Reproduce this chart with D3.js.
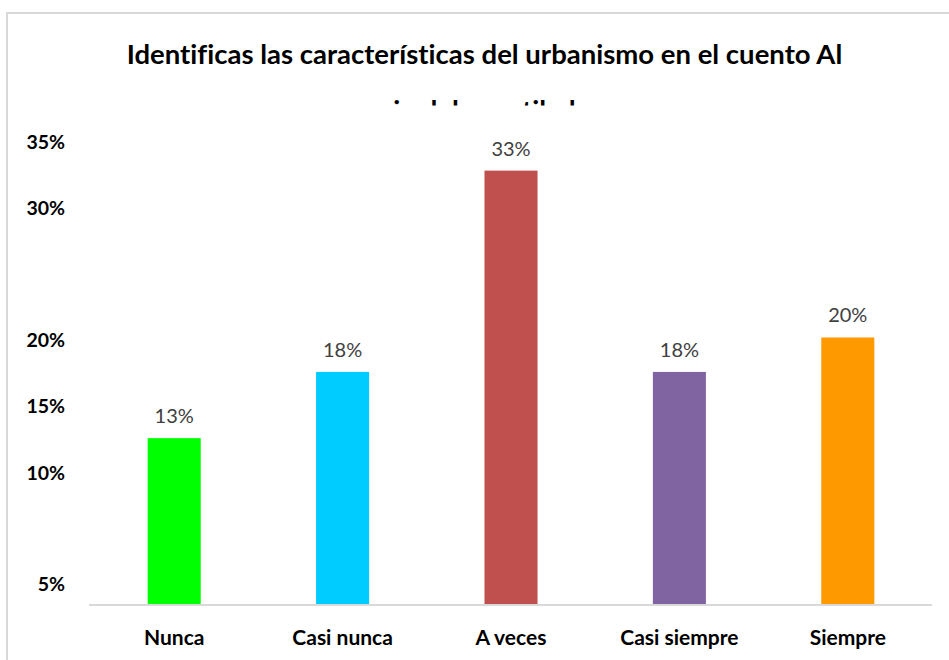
<html>
  <head>
    <meta charset="utf-8">
    <style>
      body { margin: 0; background: #fff; }
      text { font-family: Lato, "Open Sans", sans-serif; font-variant-ligatures: none; }
    </style>
  </head>
  <body>
    <script src="https://d3js.org/d3.v7.min.js"></script>
    <svg width="949" height="660" id="svg1"></svg>
    <script>
    var categories = ["Nunca", "Casi nunca", "A veces", "Casi siempre", "Siempre"];
    var values = [12.6, 17.6, 32.8, 17.6, 20.2];
    var colors = ["#00ff00", "#00ccff", "#c0504d", "#8064a2", "#ff9900"];
    var tickValues = [1.6, 10, 15, 20, 30, 35];
    var tickLabels = ["5%", "10%", "15%", "20%", "30%", "35%"];
    var titleLines = ["Identificas las características del urbanismo en el cuento Al", "pie del acantilado"];

    var svg = d3.select("#svg1");

    // chart border, runs off the right and bottom
    svg.append("rect")
       .attr("x", 7).attr("y", 13)
       .attr("width", 980).attr("height", 700)
       .attr("fill", "#fff")
       .attr("stroke", "#d9d9d9")
       .attr("stroke-width", 2);

    var xScale = d3.scaleBand().domain(categories).range([90, 932])
                   .paddingInner(0.685).paddingOuter(0.3425),
        yScale = d3.scaleLinear().domain([0, 35]).range([605, 141.5]);

    // title, second line cut by the plot area
    svg.append("clipPath").attr("id", "cut")
       .append("rect").attr("x", 0).attr("y", 0).attr("width", 949).attr("height", 105.5);

    svg.append("text")
       .attr("x", 484.5).attr("y", 64)
       .attr("text-anchor", "middle")
       .attr("font-size", "27.5px").attr("font-weight", "bold")
       .text(titleLines[0]);
    svg.append("text")
       .attr("x", 484.5).attr("y", 119.5)
       .attr("text-anchor", "middle")
       .attr("font-size", "27.5px").attr("font-weight", "bold")
       .attr("clip-path", "url(#cut)")
       .text(titleLines[1]);

    // y labels
    svg.append("g").selectAll("text")
       .data(tickValues)
       .enter().append("text")
       .attr("x", 65)
       .attr("y", function(d) { return yScale(d); })
       .attr("dy", "0.36em")
       .attr("text-anchor", "end")
       .attr("font-size", "19.5px").attr("font-weight", "bold")
       .text(function(d, i) { return tickLabels[i]; });

    // bars
    svg.append("g").selectAll("rect")
       .data(values)
       .enter().append("rect")
       .attr("x", function(d, i) { return xScale(categories[i]); })
       .attr("y", function(d) { return yScale(d); })
       .attr("width", xScale.bandwidth())
       .attr("height", function(d) { return yScale(0) - yScale(d); })
       .attr("fill", function(d, i) { return colors[i]; });

    // value labels
    svg.append("g").selectAll("text")
       .data(values)
       .enter().append("text")
       .attr("x", function(d, i) { return xScale(categories[i]) + xScale.bandwidth() / 2; })
       .attr("y", function(d) { return yScale(d) - 15; })
       .attr("text-anchor", "middle")
       .attr("font-size", "20px")
       .attr("fill", "#404040")
       .text(function(d) { return d3.format(".0f")(d) + "%"; });

    // x axis
    var xAxis = svg.append("g")
       .attr("transform", "translate(0," + yScale(0) + ")")
       .call(d3.axisBottom(xScale).tickSize(0).tickPadding(0));
    xAxis.select(".domain").attr("stroke", "#d9d9d9").attr("stroke-width", 2)
         .attr("d", "M89,0H932");
    xAxis.selectAll(".tick text")
         .attr("y", 40).attr("dy", 0)
         .attr("font-family", "Lato, sans-serif")
         .attr("font-size", "21px").attr("font-weight", "bold")
         .attr("fill", "#000");
    </script>
  </body>
</html>
